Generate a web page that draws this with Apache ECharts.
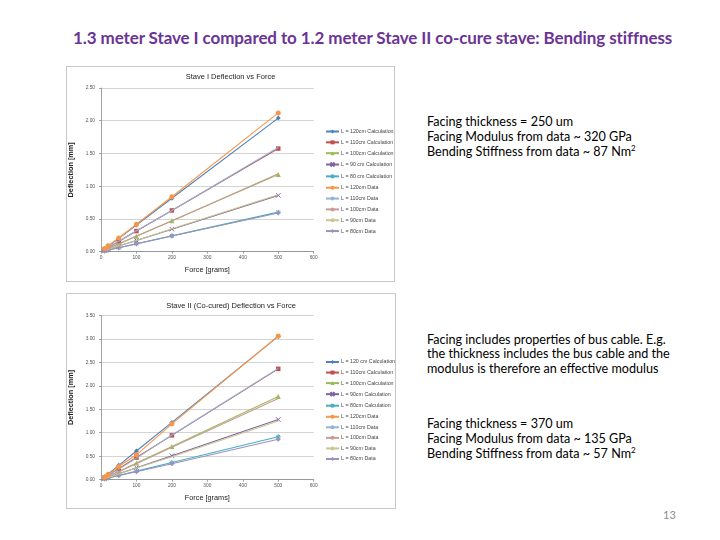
<!DOCTYPE html>
<html>
<head>
<meta charset="utf-8">
<script src="https://cdn.jsdelivr.net/npm/echarts@6/dist/echarts.min.js"></script>
<style>
  html, body { margin: 0; padding: 0; background: #ffffff; }
  body { width: 720px; height: 540px; position: relative; overflow: hidden; font-family: Lato, "Open Sans", sans-serif; }
  .title { position: absolute; left: 73px; top: 27px; font-size: 17px; font-weight: 700; color: #6b3494; white-space: nowrap; letter-spacing: -0.1px; }
  .txt { position: absolute; left: 427px; font-size: 12.6px; color: #000; white-space: nowrap; line-height: 15px; }
  .pg { position: absolute; left: 663px; top: 508px; font-size: 11px; color: #8c8c8c; }
  .chart { position: absolute; border: 1px solid #c8c8c8; box-sizing: border-box; }
</style>
</head>
<body>
<div class="title">1.3 meter Stave I compared to 1.2 meter Stave II co-cure stave: Bending stiffness</div>
<div class="txt" style="top:114px">Facing thickness = 250 um<br>Facing Modulus from data ~ 320 GPa<br>Bending Stiffness from data ~ 87 Nm<sup style="font-size:8px;line-height:0">2</sup></div>
<div class="txt" style="top:333px;line-height:14.3px">Facing includes properties of bus cable. E.g.<br>the thickness includes the bus cable and the<br>modulus is therefore an effective modulus</div>
<div class="txt" style="top:416px">Facing thickness = 370 um<br>Facing Modulus from data ~ 135 GPa<br>Bending Stiffness from data ~ 57 Nm<sup style="font-size:8px;line-height:0">2</sup></div>
<div class="pg">13</div>
<div id="c1" class="chart" style="left:66px;top:66px;width:329px;height:216px"></div>
<div id="c2" class="chart" style="left:66px;top:293px;width:330px;height:216px"></div>
<script>
// ---- data ----
const forces = [10, 20, 50, 100, 200, 500];
const xTicks = [0, 100, 200, 300, 400, 500, 600];

const names1 = ["L = 120cm Calculation", "L = 110cm Calculation", "L = 100cm Calculation", "L = 90 cm Calculation", "L = 80 cm Calculation",
                "L = 120cm Data", "L = 110cm Data", "L = 100cm Data", "L = 90cm Data", "L = 80cm Data"];
const names2 = ["L = 120 cm Calculation", "L = 110cm Calculation", "L = 100cm Calculation", "L = 90cm Calculation", "L = 80cm Calculation",
                "L = 120cm Data", "L = 110cm Data", "L = 100cm Data", "L = 90cm Data", "L = 80cm Data"];

// Stave I
const s1calc120 = [0.041, 0.082, 0.204, 0.408, 0.816, 2.04];
const s1calc110 = [0.031, 0.063, 0.157, 0.315, 0.630, 1.575];
const s1calc100 = [0.024, 0.047, 0.118, 0.236, 0.472, 1.18];
const s1calc90  = [0.017, 0.034, 0.086, 0.172, 0.344, 0.86];
const s1calc80  = [0.012, 0.024, 0.060, 0.121, 0.242, 0.604];
const s1data120 = [0.05, 0.09, 0.21, 0.42, 0.84, 2.12];
const s1data110 = [0.035, 0.07, 0.16, 0.32, 0.63, 1.59];
const s1data100 = [0.025, 0.05, 0.12, 0.24, 0.47, 1.19];
const s1data90  = [0.02, 0.035, 0.09, 0.17, 0.35, 0.87];
const s1data80  = [0.012, 0.025, 0.06, 0.12, 0.24, 0.59];

// Stave II
const s2calc120 = [0.061, 0.122, 0.305, 0.61, 1.22, 3.05];
const s2calc110 = [0.047, 0.094, 0.236, 0.472, 0.944, 2.36];
const s2calc100 = [0.035, 0.071, 0.177, 0.354, 0.708, 1.77];
const s2calc90  = [0.026, 0.051, 0.128, 0.256, 0.512, 1.28];
const s2calc80  = [0.018, 0.037, 0.091, 0.183, 0.366, 0.915];
const s2data120 = [0.05, 0.11, 0.28, 0.53, 1.19, 3.06];
const s2data110 = [0.04, 0.09, 0.22, 0.46, 0.95, 2.37];
const s2data100 = [0.03, 0.07, 0.17, 0.34, 0.69, 1.73];
const s2data90  = [0.02, 0.05, 0.12, 0.25, 0.49, 1.25];
const s2data80  = [0.02, 0.04, 0.09, 0.17, 0.34, 0.86];

// ---- styles ----
const colors = ["#4F81BD", "#C0504D", "#9BBB59", "#8064A2", "#4BACC6", "#F79646", "#95B3D7", "#C99A98", "#C9C68F", "#9C92B8"];
const xSym = 'path://M0,0L10,10M10,0L0,10';
const starSym = 'path://M5,0L5,10M0,5L10,5M1.5,1.5L8.5,8.5M8.5,1.5L1.5,8.5';
const symbols = ['diamond', 'rect', 'triangle', xSym, starSym, 'circle', 'none', 'none', 'none', 'diamond'];
const symSizes = [5, 4.5, 5, 4.5, 5, 5, 0, 0, 0, 5];

function makeSeries(names, arrays) {
  return arrays.map((arr, i) => ({
    name: names[i],
    type: 'line',
    data: forces.map((f, j) => [f, arr[j]]),
    symbol: symbols[i],
    symbolSize: symSizes[i],
    showSymbol: symbols[i] !== 'none',
    lineStyle: { width: 1.1, color: colors[i] },
    itemStyle: { color: colors[i], borderColor: colors[i], borderWidth: (i === 3 || i === 4) ? 1 : 0 },
    z: 10 - i + (i >= 5 ? 10 : 0),
    animation: false
  }));
}

function makeOption(title, names, arrays, yMax, titleTop, legendTop, legendGap, legendLeft, gridTop, gridH) {
  return {
    animation: false,
    title: { text: title, left: 'center', top: titleTop, padding: 0,
      textStyle: { fontSize: 7.5, fontWeight: 'normal', color: '#222', fontFamily: 'Liberation Sans' } },
    legend: {
      orient: 'vertical', left: legendLeft, top: legendTop, padding: 0,
      itemWidth: 13, itemHeight: 5, itemGap: legendGap,
      data: names,
      textStyle: { fontSize: 5.3, color: '#444', fontFamily: 'Liberation Sans', padding: [0, 0, 0, -3] }
    },
    grid: { left: 34, top: gridTop, width: 212.7, height: gridH, outerBoundsMode: 'none', containLabel: false },
    xAxis: {
      type: 'value', min: 0, max: 600, interval: 100,
      name: 'Force [grams]', nameLocation: 'middle', nameGap: 15,
      nameTextStyle: { fontSize: 7.3, color: '#222', fontFamily: 'Liberation Sans' },
      axisLine: { lineStyle: { color: '#8c8c8c', width: 0.8 } },
      axisTick: { show: true, length: 2, lineStyle: { color: '#8c8c8c', width: 0.8 } },
      axisLabel: { fontSize: 4.8, color: '#555', margin: 3, formatter: v => String(v) },
      splitLine: { show: false }
    },
    yAxis: {
      type: 'value', min: 0, max: yMax, interval: 0.5,
      name: 'Deflection [mm]', nameLocation: 'middle', nameGap: 25,
      nameTextStyle: { fontSize: 7.3, color: '#222', fontWeight: 'bold', fontFamily: 'Liberation Sans' },
      axisLine: { show: true, lineStyle: { color: '#8c8c8c', width: 0.8 } },
      axisTick: { show: true, length: 2, lineStyle: { color: '#8c8c8c', width: 0.8 } },
      axisLabel: { fontSize: 4.8, color: '#555', margin: 6, formatter: v => v.toFixed(2) },
      splitLine: { show: true, lineStyle: { color: '#c8c8c8', width: 0.8 } }
    },
    series: makeSeries(names, arrays)
  };
}

const c1 = echarts.init(document.getElementById('c1'));
c1.setOption(makeOption('Stave I Deflection vs Force', names1,
  [s1calc120, s1calc110, s1calc100, s1calc90, s1calc80, s1data120, s1data110, s1data100, s1data90, s1data80],
  2.5, 6, 62, 5.84, 258, 21, 163.7));

const c2 = echarts.init(document.getElementById('c2'));
c2.setOption(makeOption('Stave II (Co-cured) Deflection vs Force', names2,
  [s2calc120, s2calc110, s2calc100, s2calc90, s2calc80, s2data120, s2data110, s2data100, s2data90, s2data80],
  3.5, 8, 65.5, 5.55, 258, 21.3, 164.4));
</script>
</body>
</html>
